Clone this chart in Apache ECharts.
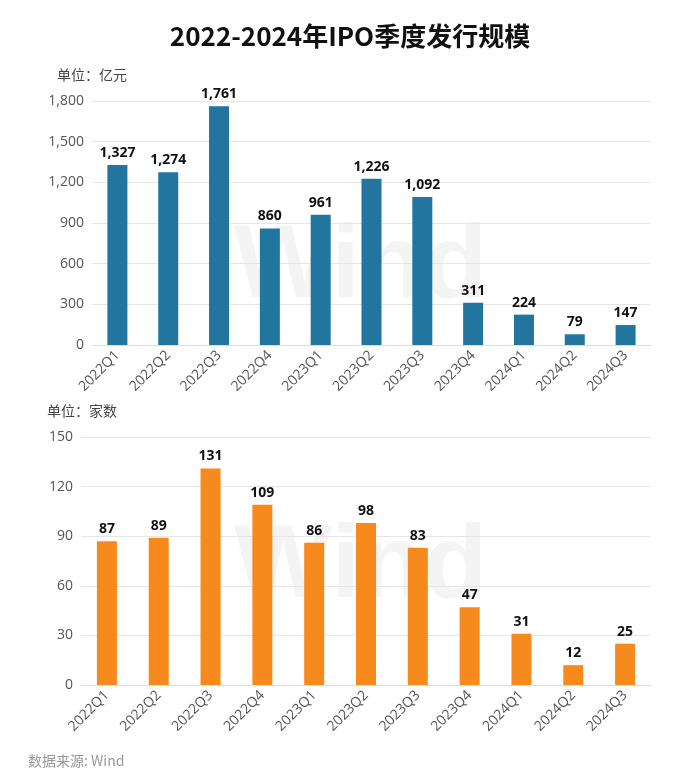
<!DOCTYPE html>
<html><head><meta charset="utf-8">
<script src="https://cdn.jsdelivr.net/npm/echarts@6/dist/echarts.min.js"></script>
<style>html,body{margin:0;padding:0;background:#fff}#c{width:700px;height:780px}</style>
</head><body><div id="c"></div>
<script>
const categories = ['2022Q1','2022Q2','2022Q3','2022Q4','2023Q1','2023Q2','2023Q3','2023Q4','2024Q1','2024Q2','2024Q3'];
const amountValues = [1327,1274,1761,860,961,1226,1092,311,224,79,147];
const countValues = [87,89,131,109,86,98,83,47,31,12,25];
const amountTicks = {min:0,max:1800,interval:300};
const countTicks = {min:0,max:150,interval:30};

const chart = echarts.init(document.getElementById('c'));
const font = '"Noto Sans CJK SC", "Noto Sans", sans-serif';
const latin = '"Open Sans", "Noto Sans CJK SC", sans-serif';
function xAxis(gi){
  return {type:'category',gridIndex:gi,data:categories,
    axisLine:{lineStyle:{color:'#dddddd'}},axisTick:{show:false},
    axisLabel:{rotate:45,color:'#555',fontSize:14,fontFamily:latin,margin:8,interval:0}};
}
function yAxis(gi,t){
  return {type:'value',gridIndex:gi,min:t.min,max:t.max,interval:t.interval,
    axisLine:{show:false},axisTick:{show:false},
    splitLine:{lineStyle:{color:'#e6e6e6'}},
    axisLabel:{color:'#555',fontSize:14,fontFamily:latin,margin:8,
      formatter:v=>v.toLocaleString('en-US')}};
}
chart.setOption({
  animation:false,
  title:{text:'2022-2024年IPO季度发行规模',left:'center',top:18,
    textStyle:{fontSize:26,fontWeight:'bold',color:'#111',fontFamily:font}},
  graphic:[
    {type:'text',left:57,top:68,style:{text:'单位：亿元',fill:'#444',font:'14px '+font}},
    {type:'text',left:47,top:404,style:{text:'单位：家数',fill:'#444',font:'14px '+font}},
    {type:'text',left:28,top:754,style:{text:'数据来源: Wind',fill:'#999',font:'14px '+font}},
    {type:'text',left:234,top:216,z:-1,style:{text:'Wind',fill:'rgba(0,0,0,0.045)',font:'bold 104px "Liberation Sans", sans-serif'}},
    {type:'text',left:234,top:516,z:-1,style:{text:'Wind',fill:'rgba(0,0,0,0.045)',font:'bold 104px "Liberation Sans", sans-serif'}}
  ],
  grid:[
    {left:92,right:49,top:101,height:244},
    {left:81,right:49,top:437,height:248}
  ],
  xAxis:[xAxis(0),xAxis(1)],
  yAxis:[yAxis(0,amountTicks),yAxis(1,countTicks)],
  series:[
    {type:'bar',xAxisIndex:0,yAxisIndex:0,data:amountValues,barWidth:20,
      itemStyle:{color:'#21759f'},
      label:{show:true,position:'top',color:'#111',fontWeight:'bold',fontSize:14,fontFamily:latin,
        formatter:p=>p.value.toLocaleString('en-US')}},
    {type:'bar',xAxisIndex:1,yAxisIndex:1,data:countValues,barWidth:20,
      itemStyle:{color:'#f78a1d'},
      label:{show:true,position:'top',color:'#111',fontWeight:'bold',fontSize:14,fontFamily:latin}}
  ]
});
</script></body></html>
